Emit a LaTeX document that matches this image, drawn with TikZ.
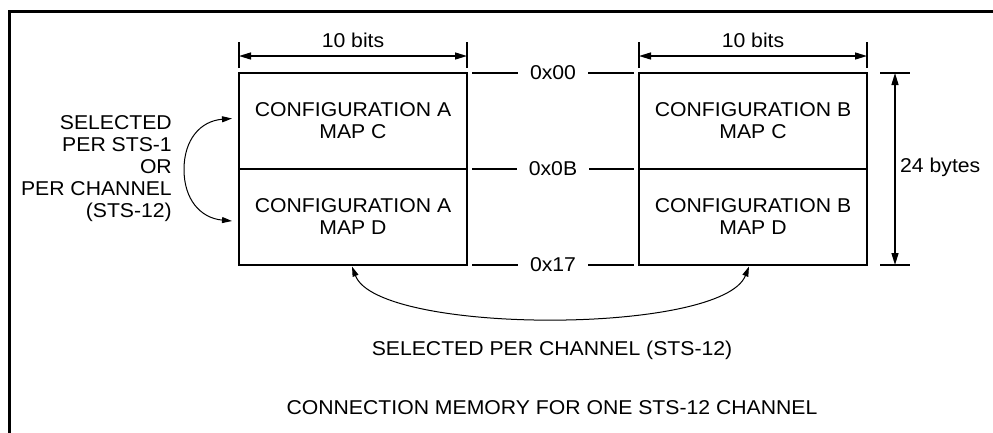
\documentclass[tikz,border=0pt]{standalone}
\usepackage{fontspec}
\setmainfont{Liberation Sans}[FakeStretch=1.06]
\usetikzlibrary{arrows.meta}
\begin{document}
\begin{tikzpicture}[x=1pt,y=-1pt,
  txt/.style={font=\fontsize{20}{22}\selectfont, inner sep=0pt},
  membox/.style={draw, line width=2.8pt, minimum width=228pt, minimum height=96pt,
    inner sep=0pt, outer sep=0pt, align=center,
    font=\fontsize{20}{22}\selectfont},
  guide/.style={line width=1.4pt},
  dimarrow/.style={line width=1.4pt,
    {Triangle[length=12pt,width=7pt]}-{Triangle[length=12pt,width=7pt]}},
  selarrow/.style={line width=1pt,
    {Triangle[length=10pt,width=6pt]}-{Triangle[length=10pt,width=6pt]}},
  addr/.style={fill=white, inner xsep=12pt, inner ysep=2pt,
    font=\fontsize{20}{22}\selectfont}
]
\clip (0,0) rectangle (993,432);
\fill[white] (0,0) rectangle (993,432);
% outer frame
\draw[line width=3pt] (9.5,11.5) rectangle (1010,450);

% memory blocks
\node[membox] (aC) at (353,121) {CONFIGURATION A\\MAP C};
\node[membox] (aD) at (353,217) {CONFIGURATION A\\MAP D};
\node[membox] (bC) at (753,121) {CONFIGURATION B\\MAP C};
\node[membox] (bD) at (753,217) {CONFIGURATION B\\MAP D};

% address marks between the blocks
\draw[guide] ([xshift=5pt]aC.north east) -- ([xshift=-5pt]bC.north west)
  node[addr, midway] (a00) {0x00};
\draw[guide] ([xshift=5pt]aC.south east) -- ([xshift=-5pt]bC.south west)
  node[addr, midway] (a0B) {0x0B};
\draw[guide] ([xshift=5pt]aD.south east) -- ([xshift=-5pt]bD.south west)
  node[addr, midway] (a17) {0x17};

% width dimensions
\foreach \b in {aC,bC}{
  \draw[guide] ([yshift=5pt]\b.north west) -- ([yshift=31pt]\b.north west);
  \draw[guide] ([yshift=5pt]\b.north east) -- ([yshift=31pt]\b.north east);
  \draw[dimarrow] ([yshift=17pt]\b.north west) -- ([yshift=17pt]\b.north east)
    node[txt, midway, above=7.5pt] {10 bits};
}

% depth dimension
\draw[guide] ([xshift=13pt]bC.north east) -- ([xshift=43pt]bC.north east);
\draw[guide] ([xshift=13pt]bD.south east) -- ([xshift=43pt]bD.south east);
\draw[dimarrow] ([xshift=28pt]bC.north east) -- ([xshift=28pt]bD.south east);
\node[txt, anchor=base west] (bytes) at (900,172) {24 bytes};

% selection between maps C and D
\node[txt, align=right, anchor=east] (selL) at (172,168.5)
  {SELECTED\\PER STS-1\\OR\\PER CHANNEL\\(STS-12)};
\draw[selarrow] ([shift={(-7pt,2.5pt)}]aC.west)
  .. controls (200,121) and (184,140) .. (184,169.5)
  .. controls (184,199) and (200,218) .. ([shift={(-7pt,-4pt)}]aD.west);

% selection between configurations A and B
\draw[selarrow] ([shift={(-1pt,-1.5pt)}]aD.south)
  .. controls (378,335) and (722,335) .. ([shift={(-4pt,-1.5pt)}]bD.south);
\node[txt, anchor=base] (selB) at (552,355) {SELECTED PER CHANNEL (STS-12)};

\node[txt, anchor=base] (title) at (552,414) {CONNECTION MEMORY FOR ONE STS-12 CHANNEL};
\end{tikzpicture}
\end{document}
